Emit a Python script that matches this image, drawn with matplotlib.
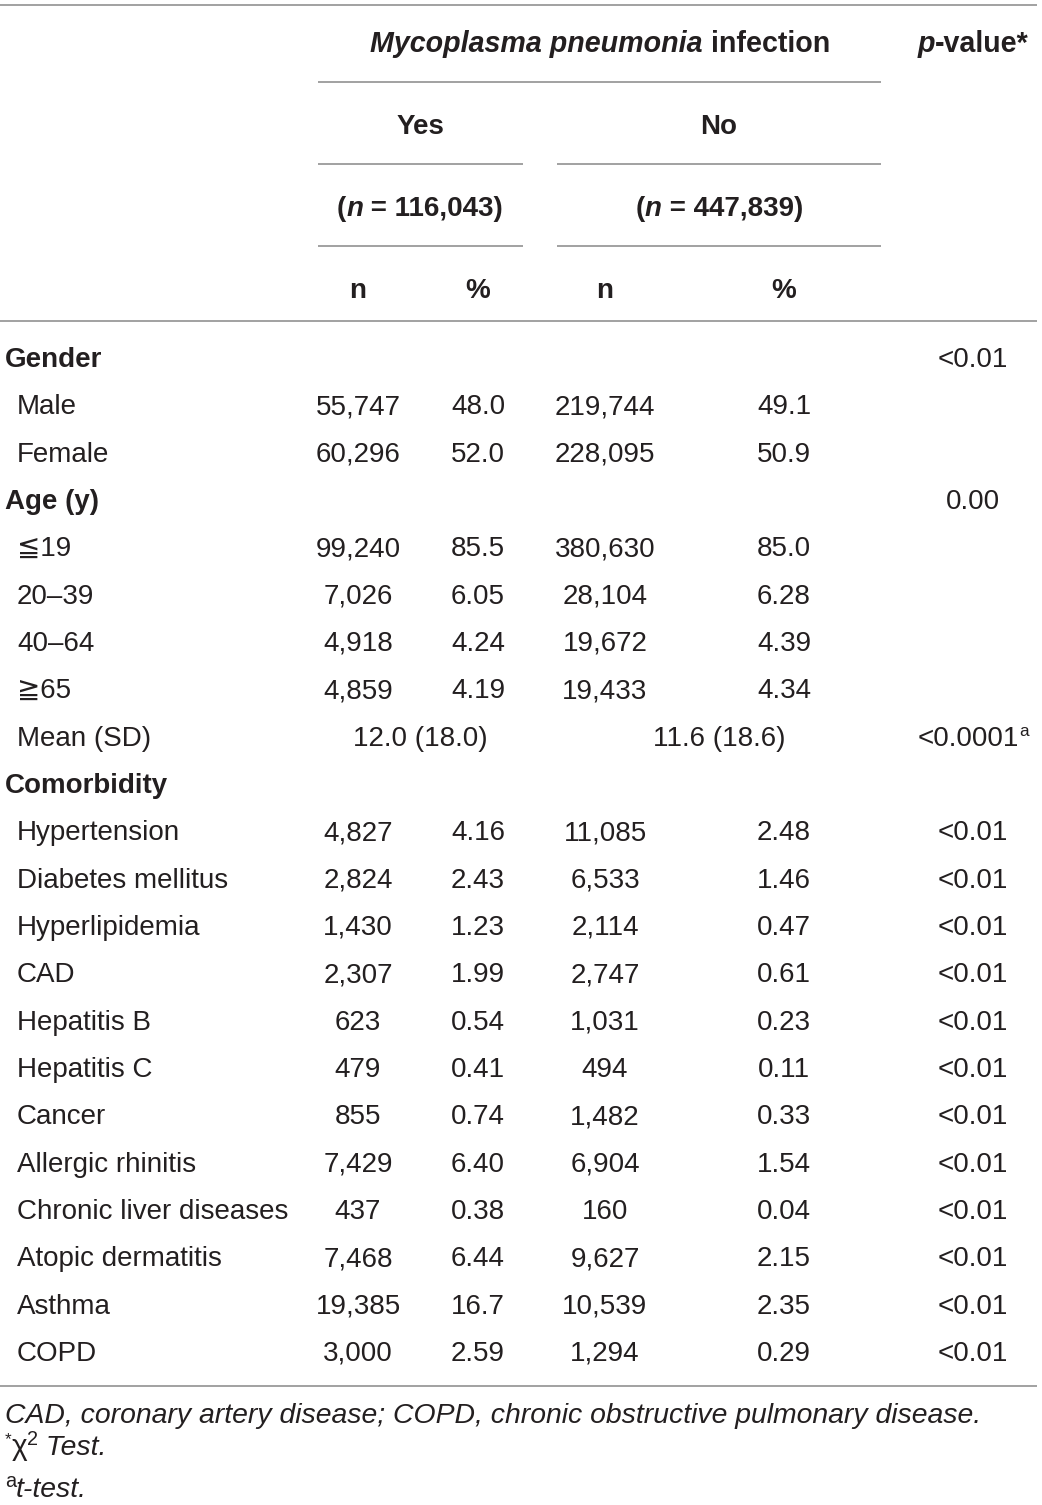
import matplotlib
matplotlib.use("Agg")
import matplotlib.pyplot as plt

# ---------------- data ----------------
gender_labels = ["Male", "Female"]
gender_yes_n = ["55,747", "60,296"]
gender_yes_pct = ["48.0", "52.0"]
gender_no_n = ["219,744", "228,095"]
gender_no_pct = ["49.1", "50.9"]
gender_p = "<0.01"

age_labels = ["≦19", "20–39", "40–64", "≧65"]
age_yes_n = ["99,240", "7,026", "4,918", "4,859"]
age_yes_pct = ["85.5", "6.05", "4.24", "4.19"]
age_no_n = ["380,630", "28,104", "19,672", "19,433"]
age_no_pct = ["85.0", "6.28", "4.39", "4.34"]
age_p = "0.00"
mean_label = "Mean (SD)"
mean_yes = "12.0 (18.0)"
mean_no = "11.6 (18.6)"
mean_p = "<0.0001"

com_labels = ["Hypertension", "Diabetes mellitus", "Hyperlipidemia", "CAD",
              "Hepatitis B", "Hepatitis C", "Cancer", "Allergic rhinitis",
              "Chronic liver diseases", "Atopic dermatitis", "Asthma", "COPD"]
com_yes_n = ["4,827", "2,824", "1,430", "2,307", "623", "479", "855", "7,429",
             "437", "7,468", "19,385", "3,000"]
com_yes_pct = ["4.16", "2.43", "1.23", "1.99", "0.54", "0.41", "0.74", "6.40",
               "0.38", "6.44", "16.7", "2.59"]
com_no_n = ["11,085", "6,533", "2,114", "2,747", "1,031", "494", "1,482", "6,904",
            "160", "9,627", "10,539", "1,294"]
com_no_pct = ["2.48", "1.46", "0.47", "0.61", "0.23", "0.11", "0.33", "1.54",
              "0.04", "2.15", "2.35", "0.29"]
com_p = ["<0.01"] * 12

n_yes = "116,043"
n_no = "447,839"

# ---------------- layout ----------------
W, H = 1042, 1505
fig = plt.figure(figsize=(W / 100, H / 100), dpi=100)
ax = fig.add_axes([0, 0, 1, 1])
ax.set_xlim(0, W)
ax.set_ylim(H, 0)
ax.axis("off")

FONT = ["Liberation Sans", "DejaVu Sans"]
FS = 20
TC = "#231f20"
LC = "#9a9a9a"
BO = 10  # baseline offset from row centre (px)

renderer = fig.canvas.get_renderer()


def rich(x, y, pieces, ha="center", size=FS):
    """pieces: list of (text, weight, style, size_scale, dy); y is row centre"""
    objs = []
    widths = []
    for s, wt, st, sc, dy in pieces:
        t = ax.text(0, y + BO + dy, s, fontsize=size * sc, fontweight=wt, fontstyle=st,
                    family=FONT, color=TC, ha="left", va="baseline")
        objs.append(t)
        bb = t.get_window_extent(renderer=renderer)
        widths.append(bb.width)
    total = sum(widths)
    if ha == "center":
        x0 = x - total / 2
    elif ha == "right":
        x0 = x - total
    else:
        x0 = x
    for t, w in zip(objs, widths):
        t.set_x(x0)
        x0 += w


def txt(x, y, s, ha="center", weight="normal", style="normal", size=FS):
    ax.text(x, y + BO, s, fontsize=size, fontweight=weight, fontstyle=style,
            family=FONT, color=TC, ha=ha, va="baseline")


def hline(y, x0, x1, lw=1.3):
    ax.plot([x0, x1], [y, y], color=LC, lw=lw, solid_capstyle="butt")


# columns
X_LABEL_HEAD = 5
X_LABEL_ITEM = 17
X_YN, X_YP, X_NN, X_NP, X_P = 358, 478, 605, 784, 973
X_YES, X_NO = 420, 719

# header lines
hline(5, 0, 1037)
hline(82, 318, 881)
hline(164, 318, 523)
hline(164, 557, 881)
hline(246, 318, 523)
hline(246, 557, 881)
hline(321, 0, 1037)
hline(1386, 0, 1037)

# header text
HY = 1
rich(600, 41 + HY, [("Mycoplasma pneumonia", "bold", "italic", 1.03, 0),
                    (" infection", "bold", "normal", 1.03, 0)])
rich(973, 41 + HY, [("p", "bold", "italic", 1.03, 0), ("-value*", "bold", "normal", 1.03, 0)])
txt(X_YES, 123 + HY, "Yes", weight="bold")
txt(X_NO, 123 + HY, "No", weight="bold")
rich(X_YES, 205 + HY, [("(", "bold", "normal", 1, 0), ("n", "bold", "italic", 1, 0),
                       (" = " + n_yes + ")", "bold", "normal", 1, 0)])
rich(X_NO, 205 + HY, [("(", "bold", "normal", 1, 0), ("n", "bold", "italic", 1, 0),
                      (" = " + n_no + ")", "bold", "normal", 1, 0)])
for x, s in [(X_YN, "n"), (X_YP, "%"), (X_NN, "n"), (X_NP, "%")]:
    txt(x, 287 + HY, s, weight="bold")

# body
Y0 = 357
DY = (1351 - 357) / 21
row = 0


def ry():
    return Y0 + row * DY


txt(X_LABEL_HEAD, ry(), "Gender", ha="left", weight="bold")
txt(X_P, ry(), gender_p)
row += 1
for i, lab in enumerate(gender_labels):
    y = ry()
    txt(X_LABEL_ITEM, y, lab, ha="left")
    txt(X_YN, y, gender_yes_n[i]); txt(X_YP, y, gender_yes_pct[i])
    txt(X_NN, y, gender_no_n[i]); txt(X_NP, y, gender_no_pct[i])
    row += 1

txt(X_LABEL_HEAD, ry(), "Age (y)", ha="left", weight="bold")
txt(X_P, ry(), age_p)
row += 1
for i, lab in enumerate(age_labels):
    y = ry()
    txt(X_LABEL_ITEM, y, lab, ha="left")
    txt(X_YN, y, age_yes_n[i]); txt(X_YP, y, age_yes_pct[i])
    txt(X_NN, y, age_no_n[i]); txt(X_NP, y, age_no_pct[i])
    row += 1
y = ry()
txt(X_LABEL_ITEM, y, mean_label, ha="left")
txt(X_YES, y, mean_yes)
txt(X_NO, y, mean_no)
rich(X_P, y, [(mean_p, "normal", "normal", 1, 0), ("a", "normal", "normal", 0.62, -10)])
row += 1

txt(X_LABEL_HEAD, ry(), "Comorbidity", ha="left", weight="bold")
row += 1
for i, lab in enumerate(com_labels):
    y = ry()
    txt(X_LABEL_ITEM, y, lab, ha="left")
    txt(X_YN, y, com_yes_n[i]); txt(X_YP, y, com_yes_pct[i])
    txt(X_NN, y, com_no_n[i]); txt(X_NP, y, com_no_pct[i])
    txt(X_P, y, com_p[i])
    row += 1

# footnotes
FN = 20.4
rich(5, 1413, [("CAD, coronary artery disease; COPD, chronic obstructive pulmonary disease.",
                "normal", "italic", 1, 0)], ha="left", size=FN)
rich(5, 1445, [("*", "normal", "normal", 0.6, -11), ("χ", "normal", "normal", 1.05, 0),
               ("2", "normal", "normal", 0.7, -10), (" Test.", "normal", "italic", 1, 0)],
     ha="left", size=FN)
rich(5, 1487, [("a", "normal", "normal", 0.7, -10), ("t-test.", "normal", "italic", 1, 0)],
     ha="left", size=FN)

fig.savefig("out.png", dpi=100, facecolor="white")
